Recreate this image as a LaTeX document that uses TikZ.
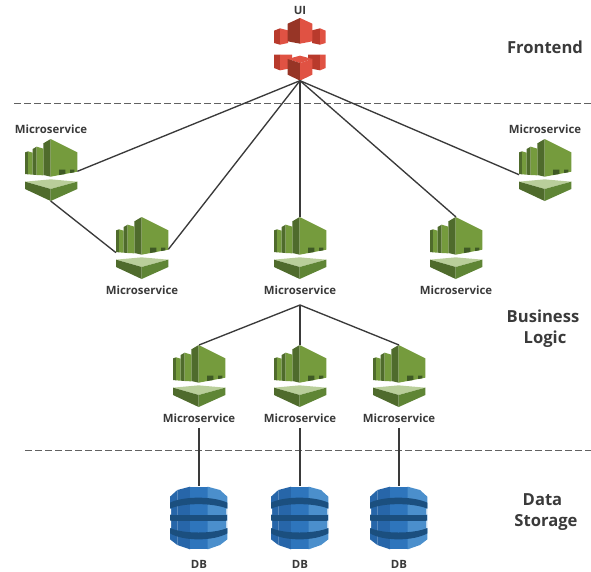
\documentclass[tikz,border=0pt]{standalone}
\usepackage{fontspec}
\setmainfont{Open Sans}
\definecolor{txt}{HTML}{3A3A3A}
\definecolor{gA}{HTML}{759B3D}
\definecolor{gB}{HTML}{4F6B2C}
\definecolor{gC}{HTML}{B9CE9A}
\definecolor{gD}{HTML}{5F8535}
\definecolor{gE}{HTML}{3F5A25}
\definecolor{rA}{HTML}{E05243}
\definecolor{rB}{HTML}{973526}
\definecolor{rC}{HTML}{B83A2C}
\definecolor{bA}{HTML}{4B8FCC}
\definecolor{bB}{HTML}{2E75BC}
\definecolor{bC}{HTML}{2766A9}
\definecolor{bD}{HTML}{1B4F7F}
\tikzset{
  lbl/.style={font=\bfseries\fontsize{11.4}{13}\selectfont,text=txt,inner sep=0pt},
  tier/.style={font=\bfseries\fontsize{16.6}{21}\selectfont,text=txt,inner sep=0pt,align=center},
  sep/.style={draw=black!62,dash pattern=on 7pt off 3pt,line width=.8pt},
  link/.style={draw=txt,line width=1.35pt},
  micro/.pic={
    \begin{scope}[scale=1/3,shift={(-123,-57)}]
      \fill[gB] (100,70)--(122,57)--(122,170)--(100,165)--cycle;
      \fill[gA] (122,57)--(202,97)--(202,155)--(122,170)--cycle;
      \fill[gB] (45,97)--(54,94)--(54,163)--(45,162)--cycle;
      \fill[gA] (54,94)--(68,98)--(68,164)--(54,163)--cycle;
      \fill[gB] (68,87)--(80,80)--(80,165)--(68,164)--cycle;
      \fill[gA] (80,80)--(100,86)--(100,166)--(80,165)--cycle;
      \fill[gE] (147,149)--(166,149)--(166,162)--(147,165)--cycle;
      \fill[gE] (180,149)--(193,149)--(193,157)--(180,159)--cycle;
      \fill[gC] (45,185)--(122,178)--(202,185)--(122,207)--cycle;
      \fill[gB] (45,185)--(122,207)--(122,243)--(45,207)--cycle;
      \fill[gD] (122,207)--(202,185)--(202,207)--(122,243)--cycle;
      \coordinate (-top) at (123,57);
      \coordinate (-right) at (202,154);
      \coordinate (-left) at (45,164);
      \coordinate (-bottom) at (122,243);
    \end{scope}
  },
  cube/.pic={
    \begin{scope}[scale=1/3,shift={(-120,-55)}]
      % upper group
      \fill[rC] (42,93)--(60,86)--(60,135)--(42,130)--cycle;
      \fill[rA] (60,86)--(84,92)--(84,130)--(60,135)--cycle;
      \fill[rC] (156,92)--(180,86)--(180,135)--(156,130)--cycle;
      \fill[rA] (180,86)--(197,93)--(197,130)--(180,135)--cycle;
      \fill[rB] (83,72)--(120,55)--(120,132)--(83,125)--cycle;
      \fill[rA] (120,55)--(157,72)--(157,125)--(120,132)--cycle;
      % lower group
      \fill[rC] (42,165)--(60,165)--(60,212)--(42,205)--cycle;
      \fill[rA] (60,165)--(96,165)--(96,205)--(60,212)--cycle;
      \fill[rC] (144,165)--(180,165)--(180,212)--(144,205)--cycle;
      \fill[rA] (180,165)--(197,165)--(197,205)--(180,212)--cycle;
      \fill[rA] (83,178)--(120,168)--(157,178)--(120,190)--cycle;
      \fill[rB] (83,178)--(120,190)--(120,243)--(83,225)--cycle;
      \fill[rA] (120,190)--(157,178)--(157,225)--(120,243)--cycle;
      \coordinate (-bottom) at (120,243);
    \end{scope}
  },
  dbase/.pic={
    \begin{scope}[scale=1/3,shift={(-117,-18)}]
      \fill[bC] (30,50)--(52,30)--(52,195)--(30,178)--cycle;
      \fill[bC] (52,30)--(90,20)--(90,208)--(52,195)--cycle;
      \fill[bB] (90,20)--(143,20)--(143,208)--(90,208)--cycle;
      \fill[bA] (143,20)--(180,30)--(180,195)--(143,208)--cycle;
      \fill[bA] (180,30)--(202,50)--(202,178)--(180,195)--cycle;
      \fill[bD] (30,68) .. controls (70,48) and (160,48) .. (202,68)
                -- (202,86) .. controls (160,68) and (70,68) .. (30,86) -- cycle;
      \fill[bD] (30,104) -- (202,104) -- (202,122) -- (30,122) -- cycle;
      \fill[bD] (30,144) .. controls (70,162) and (160,162) .. (202,144)
                -- (202,160) .. controls (160,184) and (70,184) .. (30,160) -- cycle;
      \fill[white] (29,86) rectangle (33,104) (29,122) rectangle (33,144);
      \fill[white] (199,86) rectangle (203,104) (199,122) rectangle (203,144);
      \coordinate (-top) at (117,18);
    \end{scope}
  }
}
\begin{document}
\begin{tikzpicture}[x=1pt,y=-1pt]
\useasboundingbox (0,0) rectangle (591,571);
% separators
\coordinate (s1a) at (14,103); \coordinate (s1b) at (591,103);
\coordinate (s2a) at (25,450); \coordinate (s2b) at (591,450);
\draw[sep] (s1a) -- (s1b);
\draw[sep] (s2a) -- (s2b);
% icons
\pic (ui) at (300,18) {cube};
\pic (m1) at (51,139) {micro};
\pic (m2) at (142,217) {micro};
\pic (m3) at (300,217) {micro};
\pic (m4) at (456,217) {micro};
\pic (m5) at (545,139) {micro};
\pic (m6) at (199,345) {micro};
\pic (m7) at (300,345) {micro};
\pic (m8) at (399,345) {micro};
\pic (d1) at (199,486) {dbase};
\pic (d2) at (300,486) {dbase};
\pic (d3) at (399,486) {dbase};
% labels
\node[lbl] (lui) at (300,10.5) {UI};
\node[lbl] (l1) at (51,129) {Microservice};
\node[lbl] (l2) at (142,290) {Microservice};
\node[lbl] (l3) at (300,290) {Microservice};
\node[lbl] (l4) at (456,290) {Microservice};
\node[lbl] (l5) at (545,129) {Microservice};
\node[lbl] (l6) at (199,418) {Microservice};
\node[lbl] (l7) at (300,418) {Microservice};
\node[lbl] (l8) at (399,418) {Microservice};
\node[lbl] (ld1) at (199,564) {DB};
\node[lbl] (ld2) at (300,564) {DB};
\node[lbl] (ld3) at (399,564) {DB};
\node[tier] (t1) at (545,47) {Frontend};
\node[tier] (t2) at (543,329) {Business\\\hspace*{4pt}Logic};
\node[tier] (t3) at (546,512) {Data\hspace*{7pt}\\Storage};
% connectors
\coordinate (hub) at (300,305);
\coordinate (d6) at (199,428); \coordinate (d7) at (300,428); \coordinate (d8) at (399,428);
\draw[link] (ui-bottom) -- (m1-right);
\draw[link] (ui-bottom) -- (m2-right);
\draw[link] (ui-bottom) -- (m3-top);
\draw[link] (ui-bottom) -- (m4-top);
\draw[link] (ui-bottom) -- (m5-left);
\draw[link] (m1-bottom) -- (m2-left);
\draw[link] (hub) -- (m6-top);
\draw[link] (hub) -- (m7-top);
\draw[link] (hub) -- (m8-top);
\draw[link] (d6) -- (d1-top);
\draw[link] (d7) -- (d2-top);
\draw[link] (d8) -- (d3-top);
\end{tikzpicture}
\end{document}
